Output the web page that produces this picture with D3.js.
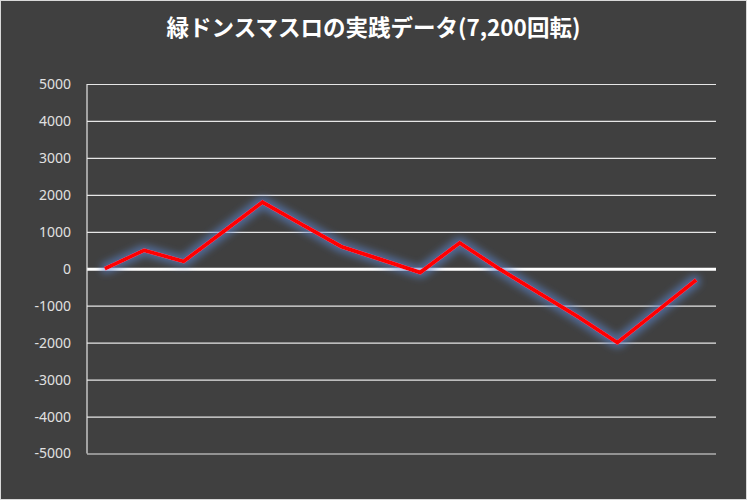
<!DOCTYPE html>
<html>
<head>
<meta charset="utf-8">
<script src="https://cdn.jsdelivr.net/npm/d3@7/dist/d3.min.js"></script>
<style>
  html, body { margin: 0; padding: 0; background: #404040; }
  svg { display: block; }
</style>
</head>
<body>
<svg id="chart" width="747" height="500"></svg>
<script>
const title = "緑ドンスマスロの実践データ(7,200回転)";
const categories = ["1","2","3","4","5","6","7","8","9","10","11","12","13","14","15","16"];
const values = [0, 500, 200, 1000, 1800, 1200, 600, 250, -100, 700, 0, -650, -1300, -2000, -1150, -300];
const yTicks = [5000, 4000, 3000, 2000, 1000, 0, -1000, -2000, -3000, -4000, -5000];

const W = 747, H = 500;
const plot = { left: 87, right: 716, top: 84, bottom: 453.5 };

const svg = d3.select("#chart");

// background + border
svg.append("rect").attr("x", 0.5).attr("y", 0.5).attr("width", W - 1).attr("height", H - 1)
  .attr("fill", "#404040").attr("stroke", "#d9d9d9").attr("stroke-width", 1);

// glow filter
const defs = svg.append("defs");
const f = defs.append("filter").attr("id", "glow")
  .attr("x", "-10%").attr("y", "-20%").attr("width", "120%").attr("height", "140%");
f.append("feMorphology").attr("in", "SourceAlpha").attr("operator", "dilate").attr("radius", 2.5).attr("result", "dil");
f.append("feGaussianBlur").attr("in", "dil").attr("stdDeviation", 3.5).attr("result", "blur");
f.append("feFlood").attr("flood-color", "#5b84cc").attr("flood-opacity", 0.6).attr("result", "col");
f.append("feComposite").attr("in", "col").attr("in2", "blur").attr("operator", "in").attr("result", "glowc");
const m = f.append("feMerge");
m.append("feMergeNode").attr("in", "glowc");
m.append("feMergeNode").attr("in", "SourceGraphic");

const x = d3.scalePoint().domain(categories).range([plot.left - 2, plot.right]).padding(0.5);
const y = d3.scaleLinear().domain([-5000, 5000]).range([plot.bottom, plot.top]);

// title
svg.append("text")
  .attr("x", W / 2).attr("y", 36)
  .attr("text-anchor", "middle")
  .attr("font-family", "'Noto Sans CJK JP', sans-serif")
  .attr("font-weight", "bold")
  .attr("font-size", 22.5)
  .attr("fill", "#ffffff")
  .text(title);

// gridlines
const yAxis = d3.axisLeft(y).tickValues(yTicks).tickSize(-(plot.right - plot.left)).tickFormat(d => String(d)).tickPadding(16);
const gy = svg.append("g").attr("transform", `translate(${plot.left},0)`).call(yAxis);
gy.select(".domain").remove();
gy.selectAll(".tick line")
  .attr("stroke", d => d === 0 ? "#ffffff" : "#e6e6e6")
  .attr("stroke-width", d => d === 0 ? 3.2 : 1.2);
gy.selectAll(".tick text")
  .attr("fill", "#e0e0e0")
  .attr("font-family", "'Noto Sans', 'DejaVu Sans', sans-serif")
  .attr("font-size", 14);

// vertical axis line
svg.append("line")
  .attr("x1", plot.left).attr("x2", plot.left)
  .attr("y1", y(5000)).attr("y2", y(-5000))
  .attr("stroke", "#e6e6e6").attr("stroke-width", 1.2);

// line
const line = d3.line().x((d, i) => x(categories[i])).y(d => y(d));
svg.append("path")
  .datum(values)
  .attr("d", line)
  .attr("fill", "none")
  .attr("stroke", "#ff0000")
  .attr("stroke-width", 4)
  .attr("stroke-linejoin", "miter")
  .attr("stroke-linecap", "butt")
  .attr("filter", "url(#glow)");
</script>
</body>
</html>
